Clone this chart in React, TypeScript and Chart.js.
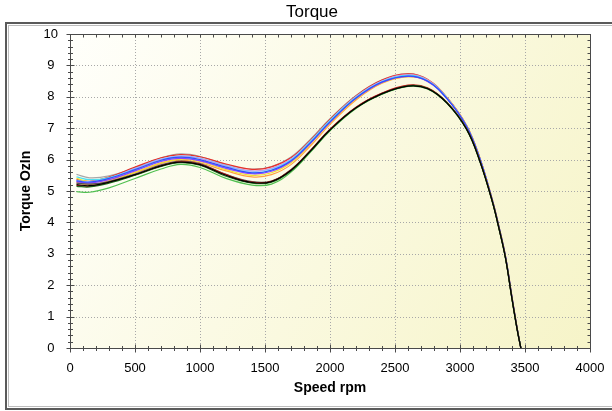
import React, { useEffect, useRef } from "react";
import { Chart, registerables } from "chart.js";

Chart.register(...registerables);

const TITLE = "Torque";
const X_TITLE = "Speed rpm";
const Y_TITLE = "Torque OzIn";

const speeds = [50, 150, 300, 500, 700, 850, 1000, 1200, 1400, 1550, 1700, 1850, 2000, 2200, 2400, 2600, 2750, 2900, 3050, 3150, 3250, 3300, 3350, 3400, 3440, 3468];

const blackSeries = [5.20, 5.17, 5.28, 5.52, 5.80, 5.92, 5.84, 5.50, 5.27, 5.30, 5.66, 6.28, 6.95, 7.65, 8.10, 8.34, 8.26, 7.80, 6.97, 5.98, 4.64, 3.80, 2.86, 1.56, 0.58, 0];
const darkGreenSeries = [5.15, 5.13, 5.25, 5.50, 5.78, 5.90, 5.82, 5.47, 5.25, 5.28, 5.64, 6.26, 6.93, 7.64, 8.09, 8.35, 8.27, 7.81, 6.98, 5.99, 4.65, 3.81, 2.87, 1.57, 0.59, 0];
const greenSeries = [4.98, 4.96, 5.10, 5.40, 5.70, 5.85, 5.75, 5.40, 5.19, 5.22, 5.60, 6.24, 6.92, 7.63, 8.08, 8.33, 8.25, 7.79, 6.96, 5.97, 4.63, 3.79, 2.85, 1.55, 0.57, 0];
const darkGraySeries = [5.25, 5.22, 5.30, 5.54, 5.83, 5.95, 5.87, 5.53, 5.30, 5.32, 5.68, 6.29, 6.96, 7.66, 8.11, 8.36, 8.27, 7.81, 6.98, 5.99, 4.65, 3.81, 2.87, 1.57, 0.59, 0];
const darkRedSeries = [5.18, 5.15, 5.27, 5.51, 5.80, 5.93, 5.85, 5.52, 5.28, 5.31, 5.67, 6.29, 6.97, 7.67, 8.12, 8.37, 8.29, 7.82, 6.99, 6.00, 4.66, 3.82, 2.88, 1.58, 0.60, 0];
const redSeries = [5.36, 5.31, 5.44, 5.76, 6.06, 6.16, 6.09, 5.86, 5.69, 5.77, 6.06, 6.62, 7.28, 8.03, 8.53, 8.73, 8.55, 7.97, 7.08, 6.08, 4.70, 3.86, 2.92, 1.62, 0.62, 0];
const lightGraySeries = [5.53, 5.42, 5.48, 5.74, 6.05, 6.18, 6.10, 5.84, 5.70, 5.78, 6.08, 6.65, 7.30, 8.04, 8.54, 8.74, 8.56, 7.98, 7.09, 6.08, 4.70, 3.86, 2.92, 1.62, 0.62, 0];
const pinkSeries = [5.28, 5.26, 5.40, 5.70, 6.00, 6.10, 6.04, 5.80, 5.64, 5.72, 6.02, 6.58, 7.24, 8.00, 8.50, 8.71, 8.54, 7.97, 7.08, 6.08, 4.69, 3.85, 2.91, 1.61, 0.61, 0];
const blueSeries = [5.32, 5.28, 5.40, 5.68, 5.98, 6.08, 6.00, 5.76, 5.58, 5.66, 5.96, 6.54, 7.20, 7.96, 8.47, 8.66, 8.50, 7.94, 7.06, 6.06, 4.68, 3.84, 2.90, 1.60, 0.61, 0];
const cyanSeries = [5.45, 5.36, 5.42, 5.66, 5.96, 6.06, 5.98, 5.74, 5.58, 5.67, 5.98, 6.57, 7.24, 7.98, 8.48, 8.68, 8.51, 7.95, 7.06, 6.06, 4.68, 3.84, 2.90, 1.60, 0.61, 0];
const yellowSeries = [5.40, 5.30, 5.36, 5.60, 5.90, 6.01, 5.94, 5.68, 5.50, 5.58, 5.90, 6.50, 7.18, 7.94, 8.45, 8.64, 8.50, 7.96, 7.08, 6.08, 4.69, 3.85, 2.91, 1.61, 0.61, 0];
const orangeSeries = [5.25, 5.20, 5.32, 5.58, 5.88, 5.98, 5.90, 5.64, 5.45, 5.52, 5.84, 6.44, 7.12, 7.90, 8.43, 8.64, 8.51, 7.97, 7.09, 6.09, 4.70, 3.86, 2.92, 1.62, 0.62, 0];
const purpleSeries = [5.30, 5.25, 5.36, 5.64, 5.94, 6.04, 5.96, 5.72, 5.55, 5.63, 5.94, 6.52, 7.19, 7.95, 8.46, 8.65, 8.49, 7.94, 7.06, 6.06, 4.68, 3.84, 2.90, 1.60, 0.60, 0];
const lightBlueSeries = [5.34, 5.30, 5.42, 5.72, 6.02, 6.12, 6.05, 5.81, 5.63, 5.71, 6.01, 6.59, 7.25, 8.00, 8.50, 8.69, 8.52, 7.96, 7.07, 6.07, 4.69, 3.85, 2.91, 1.61, 0.61, 0];

const seriesList: [string, number[], string][] = [
  ["Run 1", blackSeries, "#000000"],
  ["Run 2", darkGreenSeries, "#1e6e1e"],
  ["Run 3", darkRedSeries, "#c81818"],
  ["Run 4", darkGraySeries, "#505050"],
  ["Run 5", greenSeries, "#50c050"],
  ["Run 6", blueSeries, "#2f4fff"],
  ["Run 7", purpleSeries, "#9040ff"],
  ["Run 8", cyanSeries, "#4fe0f0"],
  ["Run 9", lightBlueSeries, "#8fb8ff"],
  ["Run 10", yellowSeries, "#f0e030"],
  ["Run 11", orangeSeries, "#ffa040"],
  ["Run 12", pinkSeries, "#ff7fbf"],
  ["Run 13", redSeries, "#e8302a"],
  ["Run 14", lightGraySeries, "#a8a8a8"],
];

const X_MIN = 0, X_MAX = 4000, X_MAJOR = 500, X_MINOR = 100;
const Y_MIN = 0, Y_MAX = 10, Y_MAJOR = 1, Y_MINOR = 0.2;

const FONT = '"Liberation Sans", Arial, sans-serif';

const framePlugin = {
  id: "frame",
  beforeDraw(chart: any) {
    const { ctx, width, height, chartArea: ca } = chart;
    ctx.save();
    ctx.fillStyle = "#ffffff";
    ctx.fillRect(0, 0, width, height);
    ctx.strokeStyle = "#5a5a5a";
    ctx.lineWidth = 2;
    ctx.strokeRect(6, 23, width + 20, 386);
    ctx.strokeStyle = "#bdbdbd";
    ctx.lineWidth = 1;
    ctx.strokeRect(8.5, 25.5, width + 20, 381);
    ctx.fillStyle = "#000000";
    ctx.font = "17px " + FONT;
    ctx.textAlign = "center";
    ctx.textBaseline = "middle";
    ctx.fillText(TITLE, 312, 12);
    const g = ctx.createLinearGradient(ca.left, ca.top, ca.right, ca.bottom);
    g.addColorStop(0, "#fffffb");
    g.addColorStop(1, "#f6f4c8");
    ctx.fillStyle = g;
    ctx.fillRect(ca.left, ca.top, ca.right - ca.left, ca.bottom - ca.top);
    ctx.restore();
  },
  beforeDatasetsDraw(chart: any) {
    const { ctx, chartArea: ca, scales } = chart;
    const xs = scales.x, ys = scales.y;
    ctx.save();
    ctx.strokeStyle = "#a8a8a8";
    ctx.lineWidth = 1;
    ctx.setLineDash([1, 2]);
    for (let v = X_MIN + X_MAJOR; v < X_MAX; v += X_MAJOR) {
      const px = Math.round(xs.getPixelForValue(v)) + 0.5;
      ctx.beginPath();
      ctx.moveTo(px, ca.top);
      ctx.lineTo(px, ca.bottom);
      ctx.stroke();
    }
    for (let v = Y_MIN + Y_MAJOR; v < Y_MAX; v += Y_MAJOR) {
      const py = Math.round(ys.getPixelForValue(v)) + 0.5;
      ctx.beginPath();
      ctx.moveTo(ca.left, py);
      ctx.lineTo(ca.right, py);
      ctx.stroke();
    }
    ctx.restore();
  },
  afterDatasetsDraw(chart: any) {
    const { ctx, chartArea: ca, scales } = chart;
    const xs = scales.x, ys = scales.y;
    const L = Math.round(ca.left) + 0.5, R = Math.round(ca.right) + 0.5;
    const T = Math.round(ca.top) + 0.5, B = Math.round(ca.bottom) + 0.5;
    ctx.save();
    ctx.strokeStyle = "#4a4a4a";
    ctx.lineWidth = 1;
    ctx.strokeRect(L, T, R - L, B - T);
    ctx.beginPath();
    const nx = Math.round((X_MAX - X_MIN) / X_MINOR);
    for (let i = 0; i <= nx; i++) {
      const v = X_MIN + i * X_MINOR;
      const major = i % Math.round(X_MAJOR / X_MINOR) === 0;
      const px = Math.round(xs.getPixelForValue(v)) + 0.5;
      const len = major ? 4 : 2.5;
      ctx.moveTo(px, B - len);
      ctx.lineTo(px, B + len);
      ctx.moveTo(px, T);
      ctx.lineTo(px, T + 3);
    }
    const ny = Math.round((Y_MAX - Y_MIN) / Y_MINOR);
    for (let i = 0; i <= ny; i++) {
      const v = Y_MIN + i * Y_MINOR;
      const major = i % Math.round(Y_MAJOR / Y_MINOR) === 0;
      const py = Math.round(ys.getPixelForValue(v)) + 0.5;
      const len = major ? 4 : 2.5;
      ctx.moveTo(L - len, py);
      ctx.lineTo(L + len, py);
      ctx.moveTo(R, py);
      ctx.lineTo(R - 3, py);
    }
    ctx.stroke();
    ctx.restore();
  },
};

export default function App() {
  const ref = useRef<HTMLCanvasElement | null>(null);
  useEffect(() => {
    document.body.style.margin = "0";
    const canvas = ref.current;
    if (!canvas) return;
    const chart = new Chart(canvas, {
      type: "line",
      data: {
        datasets: seriesList.map(([label, vals, color]) => ({
          label,
          data: speeds.map((s, i) => ({ x: s, y: vals[i] })),
          borderColor: color,
          backgroundColor: color,
          borderWidth: 1.2,
          pointRadius: 0,
          fill: false,
          tension: 0.4,
        })),
      },
      options: {
        responsive: false,
        animation: false,
        devicePixelRatio: 1,
        layout: { padding: { top: 34, right: 22, bottom: 0, left: 0 } },
        plugins: { legend: { display: false }, tooltip: { enabled: false }, title: { display: false } },
        scales: {
          x: {
            type: "linear",
            min: X_MIN,
            max: X_MAX,
            grid: { display: false },
            border: { display: false },
            ticks: {
              stepSize: X_MAJOR,
              color: "#000",
              padding: 5,
              font: { family: FONT, size: 13 },
              callback: (v: any) => String(v),
            },
            title: {
              display: true,
              text: X_TITLE,
              color: "#000",
              font: { family: FONT, size: 14, weight: "bold" },
              padding: { top: 0, bottom: 14 },
            },
            afterFit: (s: any) => { s.height = 63; },
          },
          y: {
            type: "linear",
            min: Y_MIN,
            max: Y_MAX,
            grid: { display: false },
            border: { display: false },
            ticks: {
              stepSize: Y_MAJOR,
              color: "#000",
              padding: 4,
              crossAlign: "center",
              font: { family: FONT, size: 13 },
              callback: (v: any) => String(v),
            },
            title: {
              display: true,
              text: Y_TITLE,
              color: "#000",
              font: { family: FONT, size: 14, weight: "bold" },
              padding: { top: 18, bottom: 0 },
            },
            afterFit: (s: any) => { s.width = 70; },
          },
        },
      },
      plugins: [framePlugin],
    });
    return () => chart.destroy();
  }, []);
  return (
    <div style={{ width: 612, height: 411 }}>
      <canvas ref={ref} width={612} height={411} style={{ display: "block" }} />
    </div>
  );
}
